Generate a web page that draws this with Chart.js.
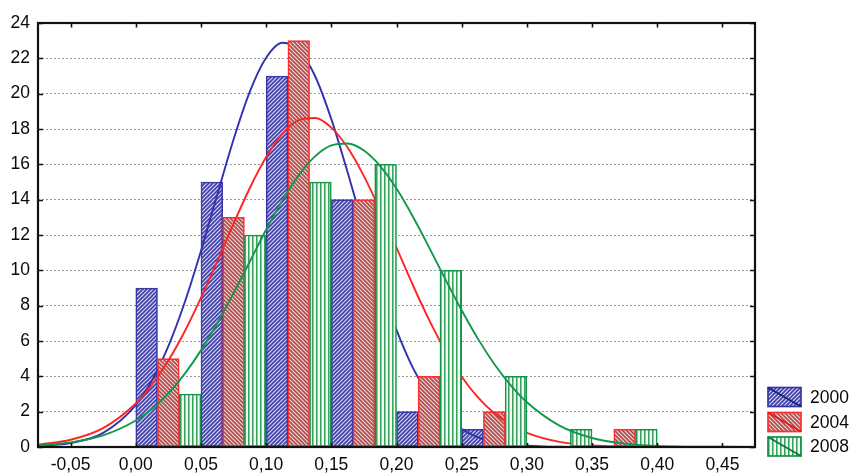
<!DOCTYPE html>
<html>
<head>
<meta charset="utf-8">
<script src="https://cdn.jsdelivr.net/npm/chart.js@4/dist/chart.umd.min.js"></script>
<style>
  html, body { margin: 0; padding: 0; background: #ffffff; }
  canvas { display: block; }
</style>
</head>
<body>
<canvas id="chart" width="852" height="475"></canvas>
<script>
// Histogram of three years, bin width 0.05, with fitted normal curves
const seriesNames = ['2000', '2004', '2008'];
const binStarts = [0.00, 0.05, 0.10, 0.15, 0.20, 0.25, 0.30, 0.35];
const binWidth = 0.05;
const counts2000 = [9, 15, 21, 14, 2, 1, 0, 0];
const counts2004 = [5, 13, 23, 14, 4, 2, 0, 1];
const counts2008 = [3, 12, 15, 16, 10, 4, 1, 1];

// Fitted normal curves, sampled along the x axis
const curveX = [-0.075, -0.05, -0.025, 0, 0.0125, 0.025, 0.0375, 0.05, 0.0625, 0.075, 0.0875, 0.1,
  0.1125, 0.125, 0.1375, 0.15, 0.1625, 0.175, 0.1875, 0.2, 0.2125, 0.225, 0.2375, 0.25, 0.2625,
  0.275, 0.2875, 0.3, 0.325, 0.35, 0.375, 0.4, 0.425, 0.45, 0.475];
const fit2000 = [0.05, 0.22, 0.80, 2.37, 3.78, 5.71, 8.18, 11.10, 14.28, 17.41, 20.12, 22.03,
  22.88, 22.51, 21.00, 18.56, 15.55, 12.35, 9.30, 6.63, 4.49, 2.88, 1.75, 1.01, 0.55,
  0.28, 0.14, 0.07, 0.01, 0, 0, 0, 0, 0, 0];
const fit2004 = [0.13, 0.41, 1.07, 2.46, 3.53, 4.89, 6.54, 8.44, 10.51, 12.64, 14.66, 16.41,
  17.74, 18.50, 18.62, 18.08, 16.95, 15.33, 13.39, 11.28, 9.17, 7.20, 5.45, 3.98, 2.81,
  1.91, 1.26, 0.80, 0.29, 0.09, 0.03, 0.01, 0, 0, 0];
const fit2008 = [0.09, 0.26, 0.66, 1.50, 2.17, 3.04, 4.14, 5.47, 7.01, 8.71, 10.50, 12.30,
  13.96, 15.39, 16.45, 17.07, 17.18, 16.78, 15.90, 14.63, 13.05, 11.30, 9.49, 7.74, 6.12,
  4.70, 3.50, 2.53, 1.21, 0.51, 0.19, 0.06, 0.02, 0.01, 0];

const xTickValues = [-0.05, 0, 0.05, 0.10, 0.15, 0.20, 0.25, 0.30, 0.35, 0.40, 0.45];
const yTickValues = [0, 2, 4, 6, 8, 10, 12, 14, 16, 18, 20, 22, 24];

const FONT = "'Liberation Sans', Arial, sans-serif";

// Hatch fills
function hatch(kind, bg, fg, lw) {
  const s = 4;
  const c = document.createElement('canvas');
  c.width = s; c.height = s;
  const g = c.getContext('2d');
  g.fillStyle = bg;
  g.fillRect(0, 0, s, s);
  g.strokeStyle = fg;
  g.lineWidth = lw;
  g.beginPath();
  if (kind === 'up') {
    g.moveTo(0, s); g.lineTo(s, 0);
    g.moveTo(-1, 1); g.lineTo(1, -1);
    g.moveTo(s - 1, s + 1); g.lineTo(s + 1, s - 1);
  } else if (kind === 'down') {
    g.moveTo(0, 0); g.lineTo(s, s);
    g.moveTo(-1, s - 1); g.lineTo(1, s + 1);
    g.moveTo(s - 1, -1); g.lineTo(s + 1, 1);
  } else {
    g.moveTo(0.8, 0); g.lineTo(0.8, s);
  }
  g.stroke();
  return g.createPattern(c, 'repeat');
}

const ctx = document.getElementById('chart').getContext('2d');

const styles = [
  { border: '#3838a6', line: '#3232ae', fill: hatch('up', '#d6d6ee', '#4040a8', 1.6) },
  { border: '#ff2e2e', line: '#ff2424', fill: hatch('down', '#f2d6d6', '#b04a4a', 1.6) },
  { border: '#14944a', line: '#12984a', fill: hatch('vert', '#f2faf4', '#24984e', 1.4) }
];

function barData(counts, slot) {
  return binStarts.map((b, i) => ({ x: b + (slot + 0.5) * binWidth / 3, y: counts[i] }));
}
function curveData(values) {
  return curveX.map((x, i) => ({ x: x, y: values[i] }));
}

function barSet(label, counts, slot, order) {
  return {
    type: 'bar', label: label, data: barData(counts, slot), order: order,
    backgroundColor: styles[slot].fill, borderColor: styles[slot].border,
    borderWidth: 1.6, borderSkipped: false, grouped: false,
    barPercentage: 1, categoryPercentage: 1
  };
}
function lineSet(label, values, slot, order) {
  return {
    type: 'line', label: label, data: curveData(values), order: order,
    borderColor: styles[slot].line, borderWidth: 1.9, pointRadius: 0,
    fill: false, cubicInterpolationMode: 'monotone'
  };
}

// Plot frame with inward ticks on all four sides
const framePlugin = {
  id: 'frame',
  afterDatasetsDraw(chart) {
    const { ctx, chartArea: a, scales } = chart;
    ctx.save();
    ctx.strokeStyle = '#111111';
    ctx.lineWidth = 2.2;
    ctx.strokeRect(a.left, a.top, a.right - a.left, a.bottom - a.top);
    ctx.lineWidth = 1.6;
    ctx.beginPath();
    xTickValues.forEach(v => {
      const px = Math.round(scales.x.getPixelForValue(v)) + 0.5;
      ctx.moveTo(px, a.top); ctx.lineTo(px, a.top + 4.5);
      ctx.moveTo(px, a.bottom); ctx.lineTo(px, a.bottom - 4);
    });
    yTickValues.forEach(v => {
      const py = Math.round(scales.y.getPixelForValue(v)) + 0.5;
      ctx.moveTo(a.left, py); ctx.lineTo(a.left + 5, py);
      ctx.moveTo(a.right, py); ctx.lineTo(a.right - 5, py);
    });
    ctx.stroke();
    ctx.restore();
  }
};

// Legend: hatched swatch crossed by the curve colour
const legendPlugin = {
  id: 'sideLegend',
  afterDraw(chart) {
    const c = chart.ctx;
    const x0 = 768, w = 33, h = 19;
    const tops = [387.5, 412.5, 437];
    c.save();
    seriesNames.forEach((name, i) => {
      const y0 = tops[i];
      c.fillStyle = styles[i].fill;
      c.fillRect(x0, y0, w, h);
      c.strokeStyle = styles[i].border;
      c.lineWidth = 1.7;
      c.strokeRect(x0, y0, w, h);
      c.strokeStyle = i === 0 ? '#1e1e80' : (i === 1 ? '#e01818' : '#0c7a38');
      c.lineWidth = 1.7;
      c.beginPath();
      c.moveTo(x0, y0); c.lineTo(x0 + w, y0 + h);
      c.stroke();
      c.fillStyle = '#0a0a0a';
      c.font = '17.5px ' + FONT;
      c.textAlign = 'left';
      c.textBaseline = 'middle';
      c.fillText(name, x0 + 42, y0 + h / 2 + 1);
    });
    c.restore();
  }
};

new Chart(ctx, {
  data: {
    datasets: [
      lineSet('2008 fit', fit2008, 2, 0),
      barSet(seriesNames[2], counts2008, 2, 1),
      lineSet('2004 fit', fit2004, 1, 2),
      barSet(seriesNames[1], counts2004, 1, 3),
      lineSet('2000 fit', fit2000, 0, 4),
      barSet(seriesNames[0], counts2000, 0, 5)
    ]
  },
  options: {
    responsive: false,
    animation: false,
    devicePixelRatio: 1,
    layout: { padding: { top: 23, right: 97, left: 0, bottom: 0 } },
    plugins: { legend: { display: false }, tooltip: { enabled: false } },
    scales: {
      x: {
        type: 'linear', min: -0.075, max: 0.475, offset: false,
        afterBuildTicks(scale) { scale.ticks = xTickValues.map(v => ({ value: v })); },
        afterFit(scale) { scale.height = 28; },
        grid: { display: false, drawTicks: false },
        border: { display: false },
        ticks: {
          padding: 8, color: '#0a0a0a', maxRotation: 0, autoSkip: false,
          font: { family: FONT, size: 17.5 },
          callback(v) { return (Math.round(v * 100) / 100).toFixed(2).replace('.', ','); }
        }
      },
      y: {
        type: 'linear', min: 0, max: 24,
        afterBuildTicks(scale) { scale.ticks = yTickValues.map(v => ({ value: v })); },
        afterFit(scale) { scale.width = 38; },
        grid: {
          drawTicks: false, lineWidth: 1,
          color(c) { return (c.tick && (c.tick.value === 0 || c.tick.value === 24)) ? 'rgba(0,0,0,0)' : '#9a9a9a'; }
        },
        border: { display: false, dash: [2, 2] },
        ticks: {
          padding: 8, color: '#0a0a0a', autoSkip: false,
          font: { family: FONT, size: 17.5 }
        }
      }
    }
  },
  plugins: [framePlugin, legendPlugin]
});
</script>
</body>
</html>
